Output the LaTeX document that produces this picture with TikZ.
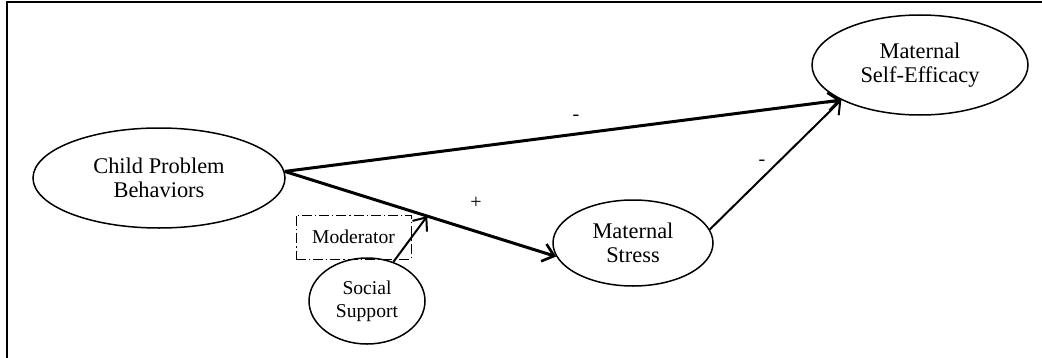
\documentclass[tikz,border=0pt]{standalone}
\usepackage{fontspec}
\setmainfont{Liberation Serif}
\usetikzlibrary{shapes.geometric,arrows.meta,calc}
\tikzset{
  var/.style={draw, ellipse, line width=0.75pt, inner sep=0pt, align=center,
    font=\fontsize{11.2}{12.3}\selectfont},
  smallvar/.style={draw, ellipse, line width=0.75pt, inner sep=0pt, align=center,
    font=\fontsize{9.8}{11.5}\selectfont},
  thickarr/.style={line width=1.5pt, -{Straight Barb[length=5.5pt,width=9pt,line width=1.3pt]}},
  thinarr/.style={line width=1pt, -{Straight Barb[length=5.5pt,width=9pt,line width=1pt]}},
  sign/.style={font=\fontsize{10}{12}\selectfont, inner sep=0pt},
  modbox/.style={draw, dash pattern=on 5pt off 1.5pt on 0.6pt off 1.5pt, line width=0.5pt,
    minimum width=57.5pt, minimum height=22pt,
    inner sep=0pt, font=\fontsize{9.8}{11.5}\selectfont}
}
\begin{document}
\begin{tikzpicture}[x=0.5pt,y=-0.5pt]
\useasboundingbox (0,0) rectangle (1042,358);
% frame
\draw[line width=1pt] (7,400) -- (7,2) -- (1100,2);
% nodes
\node[var, minimum width=126pt, minimum height=50pt] (child) at (159,178) {Child Problem\\Behaviors};
\node[var, minimum width=108pt, minimum height=50pt] (eff) at (920,65) {Maternal\\Self-Efficacy};
\node[var, minimum width=80pt, minimum height=43pt] (stress) at (633,243) {Maternal\\Stress};
\node[smallvar, minimum width=58pt, minimum height=43pt] (soc) at (367,301) {Social\\Support};
\node[modbox] (mod) at (353.5,237) {Moderator};
% connectors
\coordinate (cs) at (child.3);
\draw[thickarr] (cs) -- (eff.204);
\draw[thickarr] (cs) -- (stress.190);
\coordinate (mid) at ($(cs)!0.525!(stress.190)$);
\draw[thinarr] (soc.56) -- (mid);
\draw[thinarr] (stress.10) -- (eff.204);
% signs
\node[sign] (s1) at (576,118) {-};
\node[sign] (s2) at (476,203) {+};
\node[sign] (s3) at (762,163) {-};
\end{tikzpicture}
\end{document}
